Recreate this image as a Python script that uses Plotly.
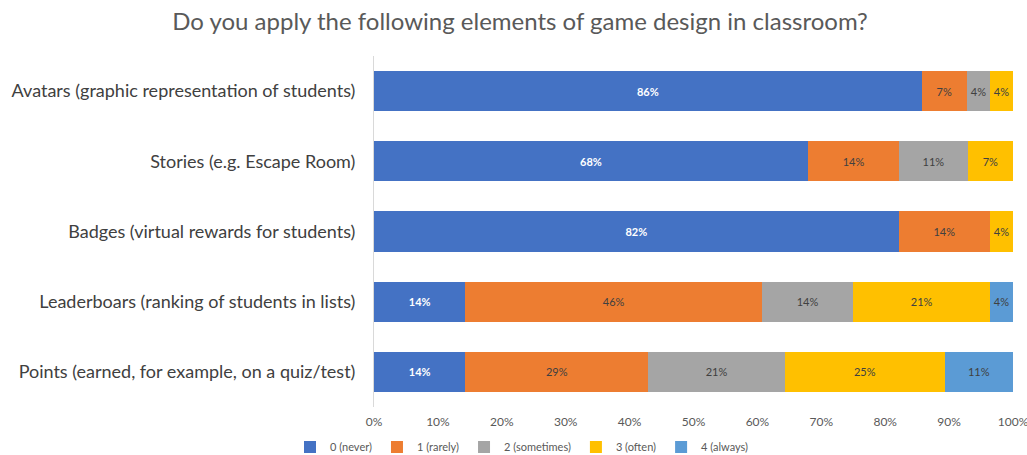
import plotly.graph_objects as go

# Survey items, top to bottom
categories = [
    "Avatars (graphic representation of students)",
    "Stories (e.g. Escape Room)",
    "Badges (virtual rewards for students)",
    "Leaderboars (ranking of students in lists)",
    "Points (earned, for example, on a quiz/test)",
]

# Share of respondents (%) per answer level
never = [85.7, 67.9, 82.1, 14.3, 14.3]
rarely = [7.1, 14.3, 14.3, 46.4, 28.6]
sometimes = [3.6, 10.7, None, 14.3, 21.4]
often = [3.6, 7.1, 3.6, 21.4, 25.0]
always = [None, None, None, 3.6, 10.7]

series_names = ["0 (never)", "1 (rarely)", "2 (sometimes)", "3 (often)", "4 (always)"]
series_values = [never, rarely, sometimes, often, always]
series_colors = ["#4472C4", "#ED7D31", "#A5A5A5", "#FFC000", "#5B9BD5"]
label_colors = ["#FFFFFF", "#404040", "#404040", "#404040", "#404040"]

tick_vals = [0, 10, 20, 30, 40, 50, 60, 70, 80, 90, 100]
tick_text = [f"{v}%" for v in tick_vals]

FONT = "Lato"
W, H = 1027, 455

fig = go.Figure()
for name, vals, color, lc in zip(series_names, series_values, series_colors, label_colors):
    fig.add_trace(go.Bar(
        name=name,
        y=categories,
        x=vals,
        orientation="h",
        marker=dict(color=color, line=dict(width=0)),
        texttemplate="%{x:.0f}%",
        textposition="inside",
        insidetextanchor="middle",
        textangle=0,
        textfont=dict(family=FONT, size=11, color=lc,
                      weight="bold" if lc == "#FFFFFF" else "normal"),
        hoverinfo="skip",
    ))

fig.update_layout(
    width=W, height=H,
    barmode="stack",
    bargap=0.43,
    paper_bgcolor="white",
    plot_bgcolor="white",
    margin=dict(l=374, r=14, t=56, b=48, autoexpand=False),
    font=dict(family=FONT, color="#595959"),
    uniformtext=dict(minsize=11, mode="show"),
    title=dict(
        text="Do you apply the following elements of game design in classroom?",
        font=dict(family=FONT, size=24, color="#595959"),
        xref="container", x=520 / W, xanchor="center",
        yref="container", y=1 - 22 / H, yanchor="middle",
    ),
    legend=dict(
        orientation="h",
        traceorder="normal",
        xref="container", x=522 / W, xanchor="center",
        yref="container", y=1 - 447 / H, yanchor="middle",
        font=dict(family=FONT, size=11, color="#595959"),
        itemwidth=30,
    ),
    xaxis=dict(
        range=[0, 100],
        tickvals=tick_vals,
        ticktext=tick_text,
        showgrid=False,
        zeroline=False,
        showline=False,
        tickfont=dict(family=FONT, size=12, color="#595959"),
        ticks="",
        ticklabelstandoff=6,
        ticklabeloverflow="allow",
        automargin=False,
        fixedrange=True,
    ),
    yaxis=dict(
        categoryorder="array",
        categoryarray=categories,
        autorange="reversed",
        showgrid=False,
        zeroline=False,
        showline=True,
        linecolor="#D9D9D9",
        linewidth=1,
        ticks="",
        tickfont=dict(family=FONT, size=18, color="#404040"),
        ticklabelstandoff=14,
        automargin=False,
        fixedrange=True,
    ),
)

fig.write_html("out.html", config={"displayModeBar": False})
